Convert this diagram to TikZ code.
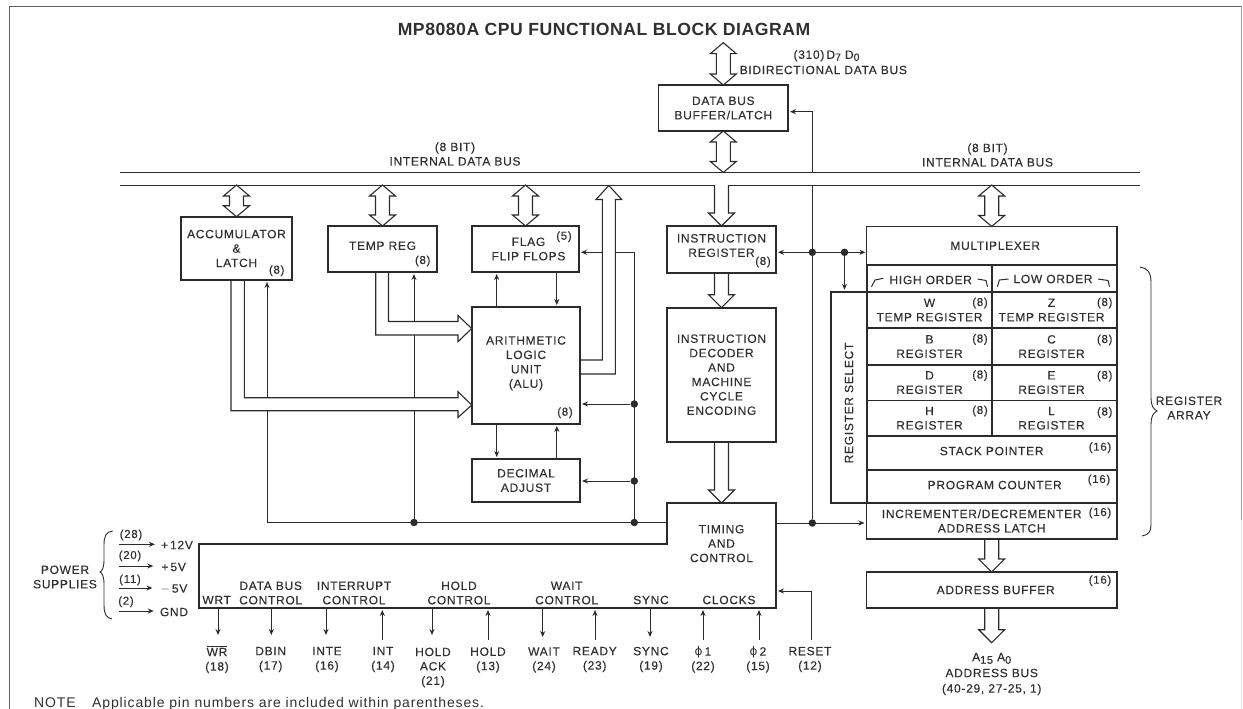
\documentclass[tikz,border=0pt]{standalone}
\usepackage{fontspec}
\setmainfont{Liberation Sans}[LetterSpace=6,FakeBold=0.25]
\newfontfamily\titlefont{Liberation Sans}[LetterSpace=3]
\newfontfamily\notefont{Liberation Sans}[LetterSpace=6.2]
\newfontfamily\symbolfont{DejaVu Sans}
\usetikzlibrary{arrows.meta,calc}
\definecolor{inkline}{HTML}{2B2B2B}
\definecolor{inktext}{HTML}{303030}
\tikzset{
    lbl/.style={inner sep=0pt, align=center, text=inktext, font=\fontsize{12}{14.4}\selectfont},
    bits/.style={inner sep=0pt, text=inktext, font=\fontsize{11.5}{14}\selectfont},
    regbox/.style={draw=inkline, line width=1.6pt, inner sep=0pt, outer sep=0pt, align=center, text=inktext, font=\fontsize{12}{14.4}\selectfont},
    sig/.style={draw=inkline, line width=0.9pt, -{Stealth[length=6pt,width=5pt]}, shorten >=2pt},
    sigboth/.style={draw=inkline, line width=0.9pt, {Stealth[length=6pt,width=5pt]}-{Stealth[length=6pt,width=5pt]}, shorten >=1pt, shorten <=2pt},
    sigline/.style={draw=inkline, line width=0.9pt},
    dot/.style={circle, fill=inkline, inner sep=0pt, minimum size=7.5pt},
    busline/.style={draw=inkline, line width=1pt},
    hollowbus/.style={draw=inkline, line width=1.1pt, fill=white, line join=miter},
    framerule/.style={draw=inkline!75, line width=0.9pt}
}
% hollow bus arrows: #1 upper end, #2 lower end
\newcommand{\busboth}[2]{\filldraw[hollowbus] (#1) -- ($(#1)+(13,11)$) -- ($(#1)+(7,11)$) -- ($(#2)+(7,-11)$) -- ($(#2)+(13,-11)$) -- (#2) -- ($(#2)+(-13,-11)$) -- ($(#2)+(-7,-11)$) -- ($(#1)+(-7,11)$) -- ($(#1)+(-13,11)$) -- cycle;}
\newcommand{\busdown}[2]{\draw[hollowbus, fill=none] (#1) ++(7,0) -- ($(#2)+(7,-13)$) -- ($(#2)+(13,-13)$) -- (#2) -- ($(#2)+(-13,-13)$) -- ($(#2)+(-7,-13)$) -- ($(#1)+(-7,0)$);}
\newcommand{\nudge}{\hspace*{6pt}}
\begin{document}
\begin{tikzpicture}[x=1pt,y=-1pt]
    \useasboundingbox (0,0) rectangle (1243,709);
    \draw[framerule] (9,709) -- (9,6.5) -- (1241,6.5);
    \draw[framerule, draw=inkline!45] (1241,6.5) -- (1241,520);
    \draw[framerule, draw=inkline!12] (1241,520) -- (1241,709);
    \node[lbl, font=\titlefont\bfseries\fontsize{17.6}{20}\selectfont] (title) at (604,29) {MP8080A CPU FUNCTIONAL BLOCK DIAGRAM};

    % bus levels
    \coordinate (bust) at (120,172.5);
    \coordinate (busb) at (120,185);
    \coordinate (bustend) at (1140,172.5);
    \coordinate (busbend) at (1140,185);

    % blocks
    \node[regbox, minimum width=111pt, minimum height=63.5pt] (acc) at (236.5,248.5) {ACCUMULATOR\\\&\\LATCH};
    \node[regbox, minimum width=109pt, minimum height=46pt, text depth=6.6pt] (tempreg) at (382.5,249) {TEMP REG};
    \node[regbox, minimum width=107pt, minimum height=46pt] (flag) at (525.5,249) {\nudge FLAG\\\nudge FLIP FLOPS};
    \node[regbox, minimum width=108pt, minimum height=117pt, text depth=7pt] (alu) at (526,365.5) {ARITHMETIC\\LOGIC\\UNIT\\(ALU)};
    \node[regbox, minimum width=108pt, minimum height=43pt] (decimal) at (526,480.5) {DECIMAL\\ADJUST};
    \node[regbox, minimum width=129.5pt, minimum height=46pt] (databuf) at (723.3,108) {DATA BUS\\BUFFER/LATCH};
    \node[regbox, minimum width=109pt, minimum height=47pt, text depth=8pt] (instreg) at (721.5,249.5) {INSTRUCTION\\REGISTER};
    \node[regbox, minimum width=109pt, minimum height=134pt] (decoder) at (721.5,374.7) {INSTRUCTION\\DECODER\\AND\\MACHINE\\CYCLE\\ENCODING};
    \node[regbox, draw=none, minimum width=109pt, minimum height=105pt, text depth=24pt] (timing) at (721.5,555.5) {TIMING\\AND\\CONTROL};
    \coordinate (ctrlleft) at (199,544);
    \draw[inkline, line width=1.6pt] (timing.north west) -- (timing.north east) -- (timing.south east) -- (ctrlleft |- timing.south) -- (ctrlleft) -- (ctrlleft -| timing.west) -- cycle;

    \node[regbox, minimum width=250.5pt, minimum height=38.5pt] (mux) at (991.7,245.7) {\hspace*{7pt}MULTIPLEXER};
    \node[regbox, minimum width=125pt, minimum height=26.7pt] (highorder) at (929.5,278.3) {};
    \node[regbox, minimum width=125.5pt, minimum height=26.7pt] (loworder) at (1054.5,278.3) {};
    \node[regbox, minimum width=125pt, minimum height=36.5pt] (wreg) at (929.5,310) {W\\TEMP REGISTER};
    \node[regbox, minimum width=125.5pt, minimum height=36.5pt] (zreg) at (1054.5,310) {Z\nudge\\TEMP REGISTER\nudge};
    \node[regbox, minimum width=125pt, minimum height=36.5pt] (breg) at (929.5,346.6) {B\\REGISTER};
    \node[regbox, minimum width=125.5pt, minimum height=36.5pt] (creg) at (1054.5,346.6) {C\nudge\\REGISTER\nudge};
    \node[regbox, minimum width=125pt, minimum height=35.5pt] (dreg) at (929.5,382.6) {D\\REGISTER};
    \node[regbox, minimum width=125.5pt, minimum height=35.5pt] (ereg) at (1054.5,382.6) {E\nudge\\REGISTER\nudge};
    \node[regbox, minimum width=125pt, minimum height=35.7pt] (hreg) at (929.5,418.2) {H\\REGISTER};
    \node[regbox, minimum width=125.5pt, minimum height=35.7pt] (lreg) at (1054.5,418.2) {L\nudge\\REGISTER\nudge};
    \node[regbox, minimum width=250.5pt, minimum height=34pt, text depth=4pt] (stack) at (991.7,453) {STACK POINTER};
    \node[regbox, minimum width=250.5pt, minimum height=33pt, text depth=3pt] (pc) at (991.7,486.5) {\hspace*{6pt}PROGRAM COUNTER};
    \node[regbox, minimum width=250.5pt, minimum height=36pt] (incr) at (991.7,521) {INCREMENTER/DECREMENTER\hspace*{20pt}\\ADDRESS LATCH};
    \node[regbox, minimum width=250.5pt, minimum height=36pt] (addrbuf) at (991.7,590) {\hspace*{8pt}ADDRESS BUFFER};
    \node[regbox, minimum width=36pt, minimum height=211.3pt] (regsel) at (848.7,397.4) {};
    \node[lbl, rotate=90] (regseltext) at (849,403) {REGISTER SELECT};

    % bit counts
    \node[bits] (accbits) at (276.7,270.7) {(8)};
    \node[bits] (tempbits) at (422.7,261) {(8)};
    \node[bits] (flagbits) at (564,236.7) {(5)};
    \node[bits] (alubits) at (565,412.7) {(8)};
    \node[bits] (irbits) at (763,262) {(8)};
    \node[bits] (wbits) at (980,303) {(8)};
    \node[bits] (zbits) at (1104.7,303) {(8)};
    \node[bits] (bbits) at (980,339.5) {(8)};
    \node[bits] (cbits) at (1104.7,340) {(8)};
    \node[bits] (dbits) at (980,375.5) {(8)};
    \node[bits] (ebits) at (1104.7,376) {(8)};
    \node[bits] (hbits) at (980,411) {(8)};
    \node[bits] (lbits) at (1104.7,412.5) {(8)};
    \node[bits] (stackbits) at (1100,447.7) {(16)};
    \node[bits] (pcbits) at (1099,480) {(16)};
    \node[bits] (incrbits) at (1100,513) {(16)};
    \node[bits] (addrbits) at (1100,580.7) {(16)};

    % order headers
    \node[lbl] (hightext) at (930.7,280) {HIGH ORDER};
    \node[lbl] (lowtext) at (1053,279) {LOW ORDER};
    \draw[sigline, line width=1pt] (871.5,286.7) -- (875,280) -- (883.4,278.3);
    \draw[sigline, line width=1pt] (977.6,279) -- (986,280.5) -- (987.5,286.7);
    \draw[sigline, line width=1pt] (997.4,286.7) -- (999.4,280) -- (1008.5,279);
    \draw[sigline, line width=1pt] (1098,279) -- (1108,280.5) -- (1109.5,286.7);

    % bus labels
    \node[lbl] (busleftbits) at (455,154) {(8 BIT)\\INTERNAL DATA BUS};
    \node[lbl] (busrightbits) at (987.5,155) {(8 BIT)\\INTERNAL DATA BUS};
    \node[lbl] (bidirlabel) at (823.3,70) {BIDIRECTIONAL DATA BUS};
    \node[lbl] (dpins) at (826.5,55.7) {(310)\,D\raisebox{-2pt}{\fontsize{10.5}{10}\selectfont 7} D\raisebox{-2pt}{\fontsize{10.5}{10}\selectfont 0}};
    \node[lbl] (regarray) at (1189,408) {REGISTER\\ARRAY};
    \node[lbl] (addrbus) at (991.7,674) {A\raisebox{-2.5pt}{\fontsize{11}{10}\selectfont 15} A\raisebox{-2.5pt}{\fontsize{11}{10}\selectfont 0}\\[1.5pt]ADDRESS BUS\\[1pt](40-29, 27-25, 1)};

    % power
    \node[lbl] (power) at (65,577) {POWER\\SUPPLIES};
    \node[lbl] (vtwelve) at (177,545) {+\,12V};
    \node[lbl] (vfive) at (173.7,567) {+\,5V};
    \node[lbl] (vminus) at (174,589) {$-$\,5V};
    \node[lbl] (vgnd) at (174,612) {GND};
    \node[bits] (ptwelve) at (131,535) {(28)};
    \node[bits] (pfive) at (130,556) {(20)};
    \node[bits] (pminus) at (130,580) {(11)};
    \node[bits] (pgnd) at (126,601.7) {(2)};
    \draw[sig, shorten >=6pt] (119,544.3) -- (vtwelve.west |- 0,544.3);
    \draw[sig, shorten >=8pt] (119,566) -- (vfive.west |- 0,566);
    \draw[sig, shorten >=8pt] (119,588) -- (vminus.west |- 0,588);
    \draw[sig, shorten >=6pt] (119,611) -- (vgnd.west |- 0,611);
    \draw[sigline] (112.7,531) .. controls (106,532) and (104,536) .. (104,545) -- (104,560) .. controls (104,568) and (102,571) .. (100,572) .. controls (102,573) and (104,576) .. (104,584) -- (104,605) .. controls (104,615) and (107,618) .. (112,619);
    \draw[sigline] (1140,267) .. controls (1147,268) and (1151,272) .. (1151,282) -- (1151,398) .. controls (1151,405) and (1153,409) .. (1157,411) .. controls (1153,413) and (1151,417) .. (1151,424) -- (1151,525) .. controls (1151,532) and (1148,535) .. (1142,536);

    % control groups
    \node[lbl] (wrtgroup) at (216.7,600) {WRT};
    \node[lbl] (datagroup) at (270.7,593) {DATA BUS\\CONTROL};
    \node[lbl] (intgroup) at (354,593) {INTERRUPT\\CONTROL};
    \node[lbl] (holdgroup) at (459,593) {HOLD\\CONTROL};
    \node[lbl] (waitgroup) at (566.7,593) {WAIT\\CONTROL};
    \node[lbl] (syncgroup) at (651,600) {SYNC};
    \node[lbl] (clockgroup) at (729,600) {CLOCKS};

    % pin labels
    \node[lbl] (wrpin) at (217,659.5) {$\overline{\hbox{WR}}$\\(18)};
    \node[lbl] (dbinpin) at (270.7,659.5) {DBIN\\(17)};
    \node[lbl] (intepin) at (327,659.5) {INTE\\(16)};
    \node[lbl] (intpin) at (383,659.5) {INT\\(14)};
    \node[lbl] (holdackpin) at (433,667.5) {HOLD\\ACK\\(21)};
    \node[lbl] (holdpin) at (488,660) {HOLD\\(13)};
    \node[lbl] (waitpin) at (544,660) {WAIT\\(24)};
    \node[lbl] (readypin) at (594.7,659.5) {READY\\(23)};
    \node[lbl] (syncpin) at (651,659.5) {SYNC\\(19)};
    \node[lbl] (phionepin) at (703,659.5) {{\symbolfont ϕ}\,1\\(22)};
    \node[lbl] (phitwopin) at (758,659.5) {{\symbolfont ϕ}\,2\\(15)};
    \node[lbl] (resetpin) at (810,659.5) {RESET\\(12)};
    \coordinate (wrend) at (218,637);
    \coordinate (dbinend) at (271.3,637);
    \coordinate (inteend) at (326,637);
    \coordinate (intend) at (382.3,640);
    \coordinate (holdackend) at (432,637);
    \coordinate (holdend) at (488,640);
    \coordinate (waitend) at (542.7,639);
    \coordinate (readyend) at (595,640);
    \coordinate (syncend) at (650,639);
    \coordinate (phioneend) at (703,640);
    \coordinate (phitwoend) at (759,640);
    \coordinate (resetend) at (811.7,640);
    \draw[sig] (wrend |- timing.south) -- (wrend);
    \draw[sig] (dbinend |- timing.south) -- (dbinend);
    \draw[sig] (inteend |- timing.south) -- (inteend);
    \draw[sig] (intend) -- (intend |- timing.south);
    \draw[sig] (holdackend |- timing.south) -- (holdackend);
    \draw[sig] (holdend) -- (holdend |- timing.south);
    \draw[sig] (waitend |- timing.south) -- (waitend);
    \draw[sig] (readyend) -- (readyend |- timing.south);
    \draw[sig] (syncend |- timing.south) -- (syncend);
    \draw[sig] (phioneend) -- (phioneend |- timing.south);
    \draw[sig] (phitwoend) -- (phitwoend |- timing.south);
    \coordinate (resetin) at (776,591);
    \draw[sig] (resetend) |- (resetin);

    % junctions
    \node[dot] (dotalu) at (634.3,404) {};
    \node[dot] (dotdec) at (634.3,481) {};
    \node[dot] (dotctrl) at (634.3,522.5) {};
    \node[dot] (dottemp) at (414,522.5) {};
    \node[dot] (dotaddr) at (812.3,523) {};
    \node[dot] (dotir) at (812.3,252.3) {};
    \node[dot] (dotsel) at (844.5,252.3) {};
    \coordinate (accin) at (267,280);
    \coordinate (flagin) at (0,252.3);
    \coordinate (datain) at (0,111.7);
    \coordinate (flagleft) at (496.7,0);
    \coordinate (flagright) at (556.8,0);

    % signal lines
    \draw[sig] (timing.west |- dotctrl) -| (accin);
    \draw[sig] (dottemp) -- (tempreg.south -| dottemp);
    \draw[sig] (dotctrl) |- (flag.east |- flagin);
    \draw[sig] (dotalu) -- (alu.east |- dotalu);
    \draw[sig] (dotdec) -- (decimal.east |- dotdec);
    \draw[sig] (alu.north -| flagleft) -- (flag.south -| flagleft);
    \draw[sig] (flag.south -| flagright) -- (alu.north -| flagright);
    \draw[sig] (alu.south -| flagleft) -- (decimal.north -| flagleft);
    \draw[sig] (decimal.north -| flagright) -- (alu.south -| flagright);
    \draw[sig] (timing.east |- dotaddr) -- (incr.west |- dotaddr);
    \draw[sigline] (dotaddr |- busb) -- (dotaddr);
    \draw[sig] (dotaddr |- bust) |- (databuf.east |- datain);
    \draw[sigboth] (instreg.east |- dotir) -- (mux.west |- dotir);
    \draw[sig] (dotsel) -- (dotsel |- regsel.north);

    % internal data bus
    \draw[busline] (bust) -- (bustend);
    \draw[busline] (busb) -- ($(instreg.north |- busb)+(-7,0)$);
    \draw[busline] ($(instreg.north |- busb)+(7,0)$) -- (busbend);

    % hollow buses
    \busboth{acc.north |- busb}{acc.north}
    \busboth{tempreg.north |- busb}{tempreg.north}
    \busboth{flag.north |- busb}{flag.north}
    \busboth{mux.north |- busb}{mux.north}
    \busboth{databuf.south}{databuf.south |- bust}
    \coordinate (bidirtop) at (723.3,42.7);
    \busboth{bidirtop}{databuf.north}
    \busdown{instreg.north |- busb}{instreg.north}
    \busdown{instreg.south}{decoder.north}
    \busdown{decoder.south}{timing.north}
    \busdown{incr.south}{addrbuf.north}
    \coordinate (addrtip) at (991.7,642.7);
    \busdown{addrbuf.south}{addrtip}

    % accumulator to alu
    \coordinate (accouter) at (231,410.7);
    \coordinate (accinner) at (244.3,397.7);
    \coordinate (accalu) at (471.7,405);
    \filldraw[hollowbus] (accouter |- acc.south) -- (accouter) -- (458,410.7) -- (458,417.5) -- (accalu) -- (458,391.7) -- (458,397.7) -- (accinner) -- (accinner |- acc.south);
    \draw[regbox] (acc.south west) -- (acc.south east);
    % temp reg to alu
    \coordinate (tempouter) at (375.7,335);
    \coordinate (tempinner) at (388.5,321.5);
    \coordinate (tempalu) at (471.7,328.5);
    \filldraw[hollowbus] (tempouter |- tempreg.south) -- (tempouter) -- (458,335) -- (458,341.7) -- (tempalu) -- (458,315.5) -- (458,321.5) -- (tempinner) -- (tempinner |- tempreg.south);
    \draw[regbox] (tempreg.south west) -- (tempreg.south east);
    % alu to bus
    \coordinate (aluupin) at (602.3,360);
    \coordinate (aluupout) at (615.3,374);
    \coordinate (aluuptip) at (608.8,185.5);
    \filldraw[hollowbus] (581,360) -- (aluupin) -- (602.3,199.5) -- (596,199.5) -- (aluuptip) -- (621.7,199.5) -- (615.3,199.5) -- (aluupout) -- (581,374);

    \node[lbl, font=\notefont\fontsize{14}{14}\selectfont, anchor=base west] (note) at (34,707.5) {NOTE};
    \node[lbl, font=\notefont\fontsize{14}{14}\selectfont, anchor=base west] (notetext) at (92,707.5) {Applicable pin numbers are included within parentheses.};
\end{tikzpicture}
\end{document}
